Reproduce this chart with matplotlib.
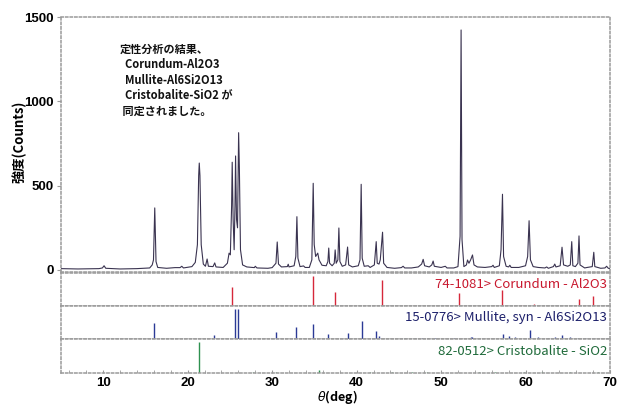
import numpy as np
import matplotlib
matplotlib.use('Agg')
import matplotlib.pyplot as plt
from matplotlib.ticker import MultipleLocator

plt.rcParams['font.family'] = ['Noto Sans CJK JP', 'DejaVu Sans']

two_theta = [5.0, 7.0, 9.5, 9.9, 10.1, 10.3, 12.0, 14.0, 15.5, 15.8, 15.95, 16.1, 16.25, 16.45,
             17.5, 18.5, 19.1, 19.3, 19.5, 20.5, 20.9, 21.15, 21.3, 21.37, 21.45, 21.6, 21.85,
             22.1, 22.3, 22.45, 23.0, 23.2, 23.35, 24.2, 24.7, 24.9, 25.05, 25.2, 25.27, 25.38,
             25.5, 25.6, 25.67, 25.78, 25.9, 26.03, 26.12, 26.25, 26.5, 27.0, 27.9, 28.0, 28.2,
             29.5, 30.0, 30.45, 30.6, 30.75, 31.1, 31.8, 31.9, 32.0, 32.6, 32.8, 32.93, 33.05,
             33.3, 33.72, 33.9, 34.4, 34.7, 34.86, 34.98, 35.15, 35.4, 35.55, 35.9, 36.4, 36.6,
             36.7, 36.8, 37.1, 37.35, 37.46, 37.58, 37.78, 37.9, 38.02, 38.3, 38.7, 38.93, 39.06,
             39.5, 40.2, 40.4, 40.54, 40.66, 40.9, 41.37, 41.6, 42.1, 42.32, 42.44, 42.65, 42.8,
             43.07, 43.2, 43.6, 44.5, 45.3, 45.5, 45.7, 46.5, 47.3, 47.7, 47.88, 48.05, 48.6,
             48.9, 49.06, 49.2, 50.0, 50.5, 50.7, 51.5, 52.0, 52.25, 52.37, 52.48, 52.7, 53.0,
             53.13, 53.3, 53.5, 53.72, 53.9, 54.3, 55.2, 56.0, 56.15, 56.3, 56.9, 57.1, 57.27,
             57.4, 57.7, 58.0, 58.14, 58.3, 59.2, 60.0, 60.25, 60.42, 60.58, 60.9, 61.5, 62.3,
             62.5, 62.7, 63.3, 63.46, 63.6, 64.1, 64.32, 64.5, 65.0, 65.3, 65.47, 65.6, 65.9,
             66.2, 66.33, 66.45, 67.0, 67.3, 67.9, 68.08, 68.2, 68.9, 69.4, 69.6, 69.8, 70.0]
counts = [8, 6, 8, 12, 25, 10, 6, 8, 12, 30, 60, 368, 50, 15,
          10, 14, 14, 22, 12, 20, 45, 150, 560, 634, 560, 150, 35,
          22, 65, 22, 20, 42, 18, 15, 40, 100, 90, 380, 639, 300,
          120, 380, 676, 300, 250, 814, 600, 120, 30, 18, 14, 22, 12,
          10, 14, 40, 166, 35, 18, 20, 34, 18, 25, 80, 316, 70,
          20, 24, 15, 15, 60, 514, 150, 80, 100, 60, 28, 25, 50,
          130, 40, 25, 40, 119, 40, 60, 249, 50, 22, 30, 136, 30,
          18, 25, 60, 508, 70, 22, 25, 15, 30, 168, 40, 35, 60,
          224, 40, 15, 10, 14, 22, 12, 12, 18, 35, 63, 25, 18,
          30, 53, 22, 15, 22, 12, 12, 20, 200, 1423, 180, 20, 30,
          59, 40, 60, 89, 30, 18, 15, 20, 28, 15, 25, 120, 449,
          80, 22, 18, 28, 15, 15, 25, 80, 292, 60, 20, 15, 12,
          18, 10, 20, 35, 18, 25, 135, 30, 22, 30, 168, 25, 20,
          40, 202, 30, 12, 15, 20, 105, 20, 10, 12, 22, 10, 8]

# reference stick patterns (relative intensity)
cor_pos = [25.2, 34.8, 37.4, 43.0, 52.15, 57.2, 59.5, 61.0, 66.3, 68.0]
cor_int = [64, 100, 46, 88, 43, 52, 4, 8, 25, 34]

mul_pos = [16.05, 23.1, 25.6, 25.9, 30.5, 32.8, 34.85, 36.6, 39.0, 40.6, 42.3, 42.7,
           45.7, 46.9, 47.8, 48.5, 49.3, 51.5, 53.5, 53.7, 57.3, 58.1, 58.7, 60.5,
           61.5, 62.7, 63.5, 64.3, 65.3, 66.2, 67.0, 69.7]
mul_int = [54, 13, 100, 100, 24, 39, 50, 16, 20, 59, 26, 10,
           4, 4, 5, 5, 5, 3, 8, 6, 18, 10, 6, 31,
           6, 5, 6, 13, 6, 5, 4, 3]

cri_pos = [21.3, 27.7, 30.5, 35.6, 41.6, 44.2, 46.6, 48.3, 54.5, 56.4, 59.8, 62.0, 65.3, 68.6]
cri_int = [100, 4, 4, 10, 3, 2, 3, 2, 2, 2, 2, 2, 2, 2]

panels = [
    (cor_pos, cor_int, '#d6283a', '74-1081> Corundum - Al2O3', '#c8182e'),
    (mul_pos, mul_int, '#2b3a96', '15-0776> Mullite, syn - Al6Si2O13', '#1c1f6a'),
    (cri_pos, cri_int, '#2e9150', '82-0512> Cristobalite - SiO2', '#1f6a3a'),
]

W, H = 617, 407
fig = plt.figure(figsize=(W / 100, H / 100), dpi=100)

left = 61 / W
width = (610 - 61) / W


def frac(top_px, bot_px):
    return [left, 1 - bot_px / H, width, (bot_px - top_px) / H]


def style_frame(ax):
    for s in ax.spines.values():
        s.set_linestyle((0, (1.5, 1.5)))
        s.set_color('#9a9a9a')
        s.set_linewidth(1.1)


tick_font = dict(family='Liberation Sans', weight='bold', size=9.5)

# main pattern
ax = fig.add_axes(frac(17, 272))
ax.plot(two_theta, counts, color='#3a3350', linewidth=0.8)
ax.set_xlim(5, 70)
ax.set_ylim(-12, 1500)
ax.set_yticks([0, 500, 1000, 1500])
ax.set_yticklabels(['0', '500', '1000', '1500'], fontdict=tick_font)
ax.set_xticks([])
ax.tick_params(axis='y', length=3, color='#9a9a9a', pad=2)
style_frame(ax)

ann = ['定性分析の結果、',
       '  Corundum-Al2O3',
       '  Mullite-Al6Si2O13',
       '  Cristobalite-SiO2 が',
       ' 同定されました。']
for i, line in enumerate(ann):
    fig.text(120 / W, 1 - (49 + i * 15.5) / H, line, fontsize=8, fontweight='bold',
             va='center', ha='left', color='#111111')

# stick panels
bounds = [(273, 306), (306, 339), (339, 373)]
axes = []
for (pos, inten, col, label, tcol), (t, b) in zip(panels, bounds):
    a = fig.add_axes(frac(t, b))
    a.vlines(pos, 0, inten, color=col, linewidth=1.0)
    a.set_xlim(5, 70)
    a.set_ylim(0, 110)
    a.set_yticks([])
    a.set_xticks([])
    a.text(0.995, 0.64, label, transform=a.transAxes, ha='right', va='center',
           fontsize=9.5, color=tcol)
    style_frame(a)
    axes.append(a)

bot = axes[-1]
bot.set_xticks([10, 20, 30, 40, 50, 60, 70])
bot.set_xticklabels(['10', '20', '30', '40', '50', '60', '70'], fontdict=tick_font)
bot.xaxis.set_minor_locator(MultipleLocator(2))
bot.tick_params(axis='x', which='both', direction='in', length=2, color='#9a9a9a', pad=3)

fig.text(337 / W, 1 - 397 / H, r'$\theta$(deg)', ha='center', va='center',
         fontsize=9, fontweight='bold')
fig.text(19 / W, 1 - 142 / H, '強度(Counts)', rotation=90, ha='center', va='center',
         fontsize=9.5, fontweight='bold')

fig.savefig('out.png', dpi=100)
